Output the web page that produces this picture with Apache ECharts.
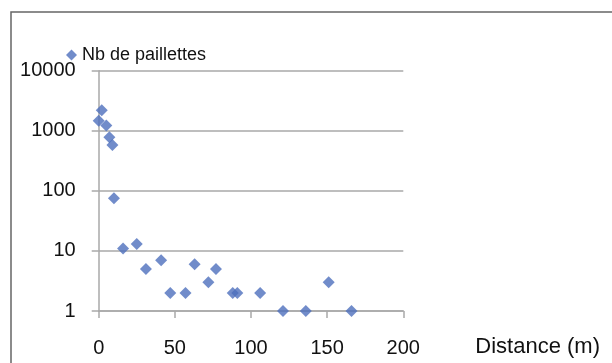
<!DOCTYPE html>
<html>
<head>
<meta charset="utf-8">
<script src="https://cdn.jsdelivr.net/npm/echarts@6/dist/echarts.min.js"></script>
<style>
  html, body { margin: 0; padding: 0; background: #fff; }
  #chart { width: 612px; height: 363px; }
</style>
</head>
<body>
<div id="chart"></div>
<script>
var distance = [0, 2, 5, 7, 9, 10, 16, 25, 31, 41, 47, 57, 63, 72, 77, 88, 91, 106, 121, 136, 151, 166];
var paillettes = [1470, 2200, 1220, 780, 580, 75, 11, 13, 5, 7, 2, 2, 6, 3, 5, 2, 2, 2, 1, 1, 3, 1];
var seriesName = 'Nb de paillettes';
var xName = 'Distance (m)';

var points = distance.map(function(d, i) { return [d, paillettes[i]]; });

var blue = '#4e6fbd';
var grid = '#a9a9a9';
var ink = '#111';
var font = 'Liberation Sans, Arial, sans-serif';

var chart = echarts.init(document.getElementById('chart'), null, { renderer: 'canvas' });
chart.setOption({
  animation: false,
  textStyle: { fontFamily: font },
  graphic: [{
    type: 'rect',
    shape: { x: 11, y: 12, width: 700, height: 500 },
    style: { fill: 'none', stroke: '#666', lineWidth: 1.5 },
    silent: true
  }],
  legend: {
    data: [seriesName],
    left: 61,
    top: 41,
    icon: 'diamond',
    itemWidth: 11,
    itemHeight: 11,
    textStyle: { color: ink, fontSize: 18, fontFamily: font }
  },
  grid: { left: 98.7, right: 208.7, top: 70.7, bottom: 52 },
  xAxis: {
    type: 'value',
    min: 0,
    max: 200,
    interval: 50,
    name: xName,
    nameLocation: 'end',
    nameGap: 72,
    nameTextStyle: { color: ink, fontSize: 22, fontFamily: font, align: 'left', verticalAlign: 'top', padding: [25, 0, 0, 0] },
    axisLine: { onZero: false, lineStyle: { color: grid, width: 1.5 } },
    axisTick: { show: true, length: 7, lineStyle: { color: grid, width: 1.5 } },
    axisLabel: { color: ink, fontSize: 20, margin: 27, fontFamily: font },
    splitLine: { show: false }
  },
  yAxis: {
    type: 'log',
    logBase: 10,
    min: 1,
    max: 10000,
    axisLine: { show: true, lineStyle: { color: grid, width: 1.5 } },
    axisTick: { show: true, length: 7, lineStyle: { color: grid, width: 1.5 } },
    axisLabel: {
      color: ink, fontSize: 20, margin: 23, fontFamily: font,
      formatter: function(v) { return String(Math.round(v)); }
    },
    splitLine: { lineStyle: { color: grid, width: 1.5 } },
    minorTick: { show: false },
    minorSplitLine: { show: false }
  },
  series: [{
    name: seriesName,
    type: 'scatter',
    symbol: 'diamond',
    symbolSize: 12,
    itemStyle: { color: blue },
    data: points
  }]
});
</script>
</body>
</html>
